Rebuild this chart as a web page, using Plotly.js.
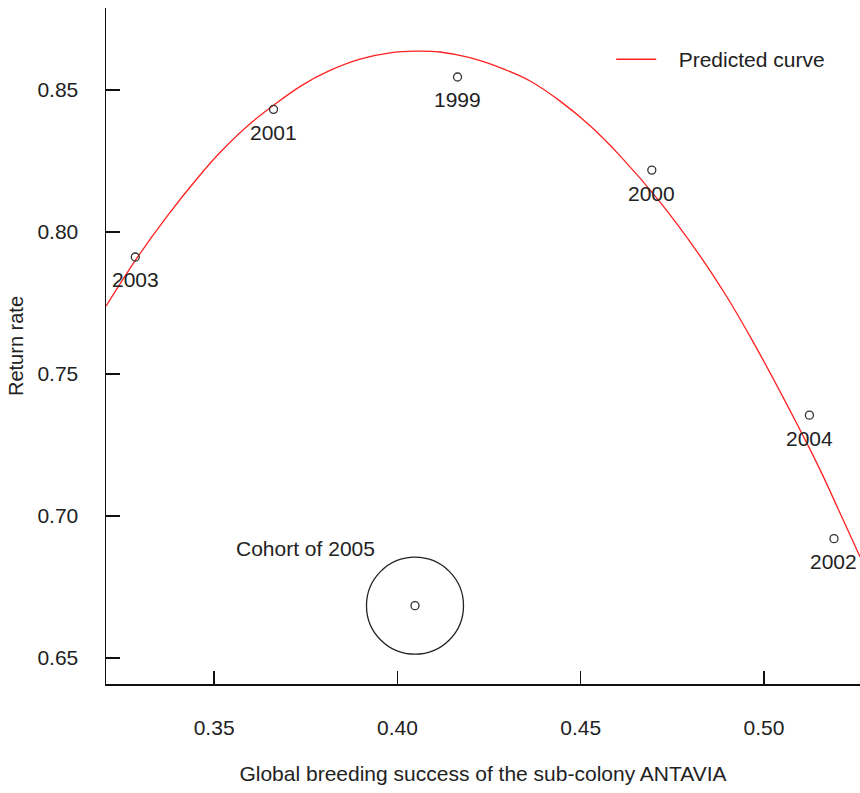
<!DOCTYPE html>
<html>
<head>
<meta charset="utf-8">
<script src="https://cdn.plot.ly/plotly-3.0.1.min.js"></script>
<style>html,body{margin:0;padding:0;background:#fff;}#chart{width:860px;height:793px;}</style>
</head>
<body>
<div id="chart"></div>
<script>
// Observed cohorts
var years = ['1999', '2000', '2001', '2002', '2003', '2004'];
var breedingSuccess = [0.4164, 0.4694, 0.3662, 0.5191, 0.3285, 0.5124];
var returnRate = [0.8546, 0.8218, 0.8432, 0.6920, 0.7912, 0.7355];

// Cohort of 2005 (highlighted)
var cohortLabel = 'Cohort of 2005';
var cohortX = [0.4048];
var cohortY = [0.6684];

// Predicted curve
var curveX = [0.3205, 0.3285, 0.3372, 0.3456, 0.3516, 0.3606, 0.3735, 0.3816, 0.3898, 0.3980, 0.4048, 0.4116, 0.4198, 0.4280, 0.4362, 0.4444, 0.4525, 0.4607, 0.4716, 0.4825, 0.4899, 0.4970, 0.5063, 0.5125, 0.5161, 0.5215, 0.5262];
var curveY = [0.7739, 0.7900, 0.8056, 0.8192, 0.8280, 0.8390, 0.8513, 0.8569, 0.8609, 0.8631, 0.8637, 0.8634, 0.8614, 0.8579, 0.8532, 0.8461, 0.8375, 0.8269, 0.8106, 0.7917, 0.7771, 0.7614, 0.7391, 0.7236, 0.7141, 0.6989, 0.6856];

// Axis ticks
var xTicks = [0.35, 0.40, 0.45, 0.50];
var xTickText = ['0.35', '0.40', '0.45', '0.50'];
var yTicks = [0.65, 0.70, 0.75, 0.80, 0.85];
var yTickText = ['0.65', '0.70', '0.75', '0.80', '0.85'];

var FONT = 'Liberation Sans, Arial, sans-serif';
var TXT = '#222222';

var traces = [
  {
    x: curveX, y: curveY, type: 'scatter', mode: 'lines',
    name: '\u00a0\u00a0\u00a0Predicted curve',
    line: {color: '#ff2020', width: 1.3, shape: 'spline', smoothing: 0.8},
    hoverinfo: 'skip', showlegend: true
  },
  {
    x: breedingSuccess, y: returnRate, type: 'scatter', mode: 'markers',
    marker: {symbol: 'circle-open', size: 8, color: '#333333', line: {width: 1.3, color: '#333333'}},
    showlegend: false
  },
  {
    x: cohortX, y: cohortY, type: 'scatter', mode: 'markers',
    marker: {symbol: 'circle-open', size: 8, color: '#333333', line: {width: 1.3, color: '#333333'}},
    showlegend: false
  },
  {
    x: cohortX, y: cohortY, type: 'scatter', mode: 'markers',
    marker: {symbol: 'circle-open', size: 97, color: '#222222', line: {width: 1.3, color: '#222222'}},
    showlegend: false, cliponaxis: false
  }
];

var annotations = years.map(function (yr, i) {
  return {
    x: breedingSuccess[i], y: returnRate[i], xref: 'x', yref: 'y',
    text: yr, showarrow: false, yshift: -23, xanchor: 'center', yanchor: 'middle',
    font: {family: FONT, size: 21, color: TXT}
  };
});
annotations.push({
  x: cohortX[0], y: cohortY[0], xref: 'x', yref: 'y',
  text: cohortLabel, showarrow: false, xshift: -110, yshift: 57, xanchor: 'center', yanchor: 'middle',
  font: {family: FONT, size: 21, color: TXT}
});

var layout = {
  width: 860, height: 793,
  margin: {l: 106, r: 0, t: 8, b: 109},
  paper_bgcolor: '#ffffff', plot_bgcolor: '#ffffff',
  font: {family: FONT, size: 21, color: TXT},
  showlegend: true,
  legend: {
    x: 0.67, y: 0.954, xanchor: 'left', yanchor: 'top',
    bgcolor: 'rgba(0,0,0,0)', borderwidth: 0,
    font: {family: FONT, size: 21, color: TXT},
    itemwidth: 40
  },
  xaxis: {
    range: [0.3205, 0.5262],
    tickvals: xTicks, ticktext: xTickText,
    ticks: 'inside', ticklen: 13, tickwidth: 1.5, tickcolor: '#111',
    showline: true, linecolor: '#111', linewidth: 1.5, mirror: false,
    showgrid: false, zeroline: false,
    ticklabelstandoff: 24,
    tickfont: {family: FONT, size: 21, color: TXT},
    title: {text: 'Global breeding success of the sub-colony ANTAVIA', standoff: 28,
            font: {family: FONT, size: 21, color: TXT}},
    automargin: false
  },
  yaxis: {
    range: [0.6408, 0.8789],
    tickvals: yTicks, ticktext: yTickText,
    ticks: 'inside', ticklen: 14, tickwidth: 1.5, tickcolor: '#111',
    showline: true, linecolor: '#111', linewidth: 1.5, mirror: false,
    showgrid: false, zeroline: false,
    ticklabelstandoff: 22,
    tickfont: {family: FONT, size: 21, color: TXT},
    title: {text: 'Return rate', standoff: 8,
            font: {family: FONT, size: 20, color: TXT}},
    automargin: false
  },
  annotations: annotations
};

Plotly.newPlot('chart', traces, layout, {displayModeBar: false, staticPlot: true});
</script>
</body>
</html>
